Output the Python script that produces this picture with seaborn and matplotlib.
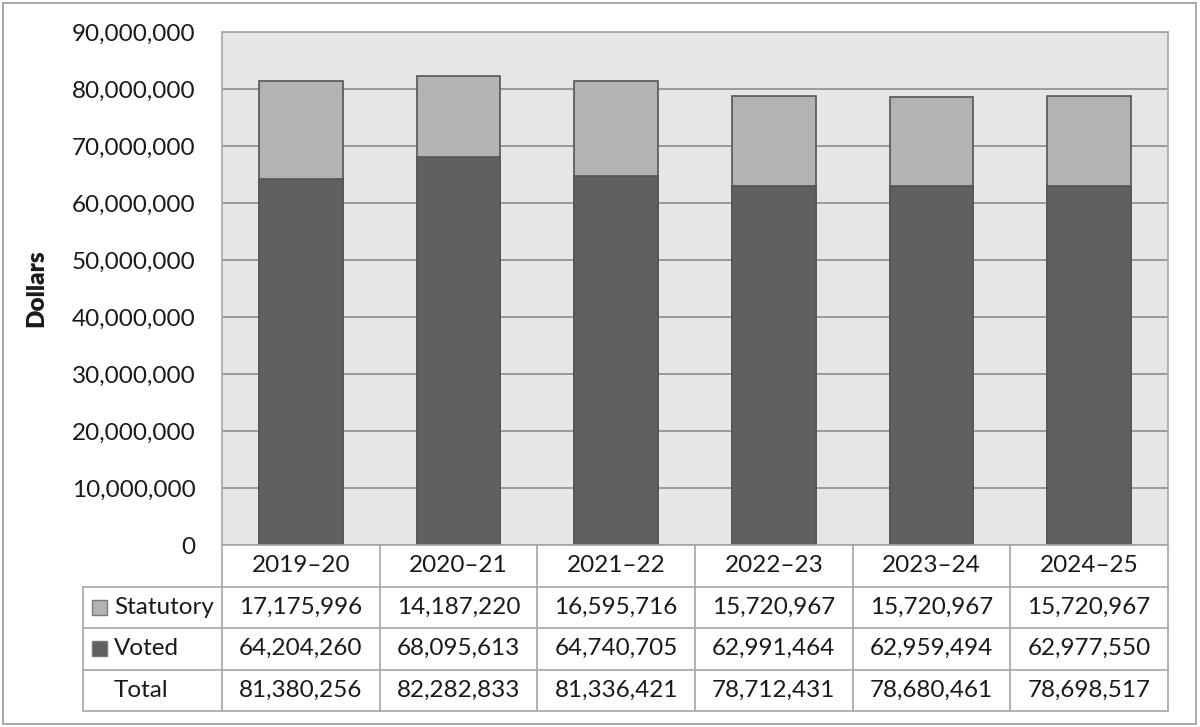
import matplotlib
matplotlib.use("Agg")
import matplotlib.pyplot as plt
import seaborn as sns
import pandas as pd
from matplotlib.patches import Rectangle

years = ["2019–20", "2020–21", "2021–22", "2022–23", "2023–24", "2024–25"]
statutory = [17175996, 14187220, 16595716, 15720967, 15720967, 15720967]
voted = [64204260, 68095613, 64740705, 62991464, 62959494, 62977550]
totals = [81380256, 82282833, 81336421, 78712431, 78680461, 78698517]
row_labels = ["Statutory", "Voted", "Total"]
y_ticks = list(range(0, 90000001, 10000000))

C_STAT = "#b3b3b3"
C_VOTED = "#606060"
C_EDGE = "#555555"
C_GRID = "#8c8c8c"
C_TABLE = "#a6a6a6"
C_BG = "#e6e6e6"

sns.set_theme(style="white")
plt.rcParams["font.family"] = ["Lato", "DejaVu Sans"]
FS = 17.5

df = pd.DataFrame({"year": years, "Voted": voted, "Total": [v + s for v, s in zip(voted, statutory)]})

fig = plt.figure(figsize=(12, 7.27), dpi=100)
W, H = 1200, 727
def fx(px): return px / W
def fy(py): return 1 - py / H

AXW = fx(1168) - fx(222)
ax = fig.add_axes([fx(222), fy(545), AXW, fy(32) - fy(545)])
ax.set_facecolor(C_BG)
ax.set_axisbelow(True)
ax.yaxis.grid(True, color=C_GRID, linewidth=1.2)

sns.barplot(data=df, x="year", y="Total", color=C_STAT, edgecolor=C_EDGE, linewidth=1.2,
            width=0.53, ax=ax, saturation=1)
sns.barplot(data=df, x="year", y="Voted", color=C_VOTED, edgecolor=C_EDGE, linewidth=1.2,
            width=0.53, ax=ax, saturation=1)

ax.set_xlim(-0.5, 5.5)
ax.set_ylim(0, 90000000)
ax.set_yticks(y_ticks)
ax.set_yticklabels([f"{v:,}" for v in y_ticks], fontsize=FS, color="#1a1a1a")
ax.tick_params(axis="y", length=0, pad=19)
ax.set_xticks([])
ax.set_xlabel("")
ax.set_ylabel("Dollars", fontsize=FS, fontweight="heavy", color="#1a1a1a")
ax.yaxis.set_label_coords((fx(47) - fx(222)) / AXW, 0.5)
for s in ["top", "right", "left"]:
    ax.spines[s].set_color(C_TABLE)
    ax.spines[s].set_linewidth(1.2)
ax.spines["bottom"].set_visible(False)

# data table axes
tax = fig.add_axes([fx(222), fy(711), AXW, fy(545) - fy(711)])
tax.set_xlim(-0.5, 5.5)
tax.set_ylim(4, 0)
tax.axis("off")
left = -0.5 - (222 - 83) / 157.7
lw = 1.2
tax.plot([-0.5, 5.5], [0, 0], color=C_TABLE, lw=lw, clip_on=False)
for r in range(1, 5):
    tax.plot([left, 5.5], [r, r], color=C_TABLE, lw=lw, clip_on=False)
for c in range(7):
    tax.plot([c - 0.5, c - 0.5], [0, 4], color=C_TABLE, lw=lw, clip_on=False)
tax.plot([left, left], [1, 4], color=C_TABLE, lw=lw, clip_on=False)

for i, y in enumerate(years):
    tax.text(i, 0.5, y, ha="center", va="center", fontsize=FS, color="#1a1a1a")
rows = [statutory, voted, totals]
for r, vals in enumerate(rows):
    for i, v in enumerate(vals):
        tax.text(i, r + 1.5, f"{v:,}", ha="center", va="center", fontsize=FS, color="#1a1a1a")

label_x = left + (114 - 83) / 157.7
for r, lab in enumerate(row_labels):
    tax.text(label_x, r + 1.5, lab, ha="left", va="center", fontsize=FS, color="#1a1a1a", clip_on=False)

key_w = 15 / 157.7
key_h = 15 / 41.5
for r, col in enumerate([C_STAT, C_VOTED]):
    x0 = left + (92 - 83) / 157.7
    tax.add_patch(Rectangle((x0, r + 1.5 - key_h / 2), key_w, key_h, facecolor=col,
                            edgecolor="#7a7a7a", lw=1, clip_on=False))

fig.patches.append(Rectangle((fx(3), fy(724)), fx(1196) - fx(3), fy(3) - fy(724),
                             transform=fig.transFigure, fill=False, edgecolor="#999999", lw=1.2))

fig.savefig("out.png", dpi=100)
